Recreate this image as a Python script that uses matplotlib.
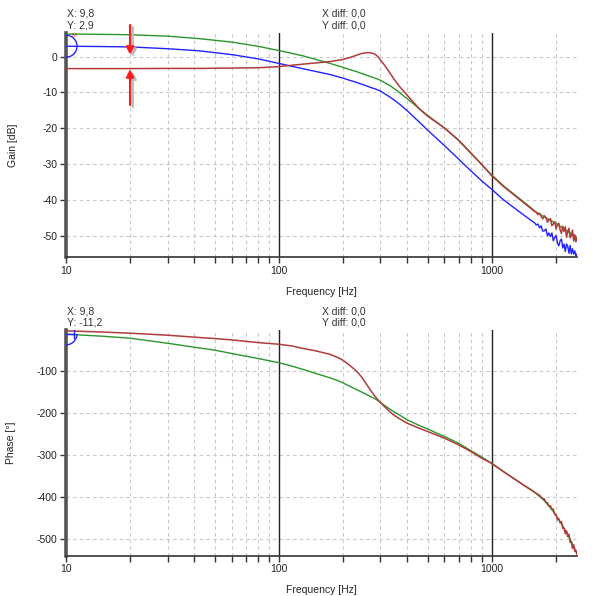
import matplotlib
matplotlib.use('Agg')
import matplotlib.pyplot as plt
import matplotlib.transforms as mtransforms
from matplotlib.patches import Arc

plt.rcParams['font.family'] = ['Liberation Sans', 'DejaVu Sans']
plt.rcParams['font.size'] = 7.5
plt.rcParams['axes.unicode_minus'] = False

# frequency points (Hz)
freq = [10, 15, 20, 30, 42.5, 61, 81, 100, 130, 174, 200, 215, 232, 245, 259, 270, 283, 292, 300,
        315, 333, 350, 370, 400, 430, 460, 500, 600, 700, 800, 900, 1000, 1140, 1365, 1600]

gain_green = [6.3, 6.2, 6.1, 5.7, 5.0, 4.0, 2.8, 1.7, 0.2, -1.9, -3.0, -3.6, -4.2, -4.7, -5.2, -5.6, -6.0, -6.3, -6.6,
              -7.3, -8.1, -9.0, -10.1, -11.7, -13.2, -14.7, -16.4, -19.9, -23.4, -27.0, -30.2, -33.0, -36.1, -39.8, -43.1]
gain_red = [-3.35, -3.35, -3.35, -3.3, -3.3, -3.2, -3.1, -2.8, -2.1, -1.4, -0.8, -0.3, 0.4, 0.85, 1.1, 1.05, 0.7, 0.0, -0.9,
            -2.5, -4.6, -6.5, -8.4, -10.7, -12.8, -14.7, -16.6, -19.9, -23.3, -26.9, -30.1, -33.2, -36.3, -40.0, -43.3]
gain_blue = [2.9, 2.8, 2.7, 2.2, 1.6, 0.5, -0.7, -1.9, -3.4, -5.0, -6.0, -6.6, -7.2, -7.7, -8.2, -8.6, -9.0, -9.3, -9.6,
             -10.4, -11.3, -12.2, -13.3, -15.0, -16.8, -18.4, -20.5, -24.8, -28.6, -31.9, -34.7, -37.0, -40.0, -43.5, -46.5]

# noisy high frequency end
freq_hf = [1620, 1650, 1680, 1710, 1740, 1770, 1800, 1830, 1860, 1890, 1920, 1950, 1980, 2010, 2040,
           2070, 2100, 2130, 2160, 2190, 2220, 2250, 2280, 2310, 2340, 2370, 2400, 2430, 2460, 2490, 2520]
gain_red_hf = [-43.4, -44.1, -43.7, -44.6, -45.3, -44.4, -44.9, -46.2, -45.6, -45.2, -47.2, -46.7, -46.1,
               -48.1, -46.9, -46.5, -48.4, -49.3, -47.3, -48.8, -47.5, -50.4, -48.8, -47.9, -50.5, -50.0,
               -48.4, -51.5, -49.7, -51.7, -50.5]
gain_blue_hf = [-47.0, -46.7, -47.8, -47.2, -48.7, -48.6, -48.1, -50.0, -49.2, -50.2, -49.2, -51.4, -50.5,
                -49.9, -52.0, -52.8, -51.4, -50.9, -53.4, -52.3, -54.4, -52.3, -52.9, -54.9, -52.7, -55.1,
                -53.6, -55.1, -54.2, -55.7, -55.1]
freq_green_hf = [1620, 2000, 2520]
gain_green_hf = [-43.4, -46.5, -50.5]

freq_ph = [10, 15, 20, 30, 40, 50, 60, 80, 100, 115, 130, 150, 174, 190, 200, 215, 232, 245, 259, 270,
           283, 295, 310, 325, 345, 370, 400, 450, 500, 600, 700, 800, 900, 1000, 1170, 1416, 1584]
phase_red = [-4, -7, -9.6, -14.4, -19, -22.4, -25.6, -32, -36, -40, -46, -52, -60, -68, -74, -86, -100, -114,
             -132, -146, -160, -171, -182, -192, -204, -214, -224, -235, -244, -260, -276, -292, -308, -320,
             -344, -372, -388]
phase_green = [-12, -17, -21.6, -33.6, -43, -50, -58, -70, -80, -88, -96, -106, -116, -123, -128, -136, -144,
               -150, -156, -161, -166, -172, -180, -187, -196, -205, -216, -228, -238, -256, -272, -290, -305,
               -320, -344, -372, -388]
phase_red_hf = [-394, -396, -401, -404, -405, -413, -414, -422, -421, -429, -429, -442, -443, -455, -452,
                -462, -459, -475, -475, -488, -481, -495, -489, -509, -507, -523, -514, -530, -528, -538]
freq_green_ph_hf = [1778, 2000, 2262, 2520]
phase_green_hf = [-410, -442, -486, -534]

c_green = '#2a962a'
c_red = '#b23a3a'
c_blue = '#2323ff'

fig = plt.figure(figsize=(6.05, 5.96), dpi=100)
ax1 = fig.add_axes([66 / 605, 1 - 257.3 / 596, (577 - 66) / 605, (257.3 - 33.3) / 596])
ax2 = fig.add_axes([66 / 605, 1 - 556 / 596, (577 - 66) / 605, (556 - 330) / 596])

minor_f = [20, 30, 40, 50, 60, 70, 80, 90, 200, 300, 400, 500, 600, 700, 800, 900, 2000]

for ax in (ax1, ax2):
    ax.set_xscale('log')
    ax.set_xlim(10, 2520)
    ax.set_xticks([10, 100, 1000])
    ax.set_xticklabels(['10', '100', '1000'])
    ax.set_xticks(minor_f, minor=True)
    ax.xaxis.set_minor_formatter(plt.NullFormatter())
    for s in ('top', 'right'):
        ax.spines[s].set_visible(False)
    ax.spines['left'].set_linewidth(2.6)
    ax.spines['left'].set_color('#555555')
    ax.spines['bottom'].set_linewidth(1.2)
    ax.spines['bottom'].set_color('#333333')
    ax.tick_params(axis='both', which='both', direction='out', length=4, width=1,
                   color='#333333', labelcolor='#222222', pad=2)
    for f in minor_f:
        ax.axvline(f, color='#c8c8c8', lw=0.8, ls=(0, (3, 3)), zorder=0)
    for f in (100, 1000):
        ax.axvline(f, color='#222222', lw=1.0, zorder=1)
    ax.set_xlabel('Frequency [Hz]', labelpad=8, color='#222222')

# gain plot
ax1.set_ylim(-56, 6.5)
ax1.set_yticks([0, -10, -20, -30, -40, -50])
for v in ax1.get_yticks():
    ax1.axhline(v, color='#c8c8c8', lw=0.8, ls=(0, (3, 3)), zorder=0)
ax1.plot(freq + freq_green_hf, gain_green + gain_green_hf, color=c_green, lw=1.0, zorder=3)
ax1.plot(freq + freq_hf, gain_blue + gain_blue_hf, color=c_blue, lw=1.0, zorder=4)
ax1.plot(freq + freq_hf, gain_red + gain_red_hf, color=c_red, lw=1.1, zorder=5)
ax1.set_ylabel('Gain [dB]', labelpad=18, color='#222222')

# phase plot
ax2.set_ylim(-541, -2)
ax2.set_yticks([-100, -200, -300, -400, -500])
for v in ax2.get_yticks():
    ax2.axhline(v, color='#c8c8c8', lw=0.8, ls=(0, (3, 3)), zorder=0)
ax2.plot(freq_ph + freq_green_ph_hf, phase_green + phase_green_hf, color=c_green, lw=1.0, zorder=3)
ax2.plot(freq_ph + freq_hf[1:], phase_red + phase_red_hf, color=c_red, lw=1.1, zorder=5)
ax2.set_ylabel('Phase [°]', labelpad=15, color='#222222')

# cursor readouts
fig.text(67 / 605, 1 - 13 / 596, 'X: 9,8', color='#333333', va='center')
fig.text(67 / 605, 1 - 25 / 596, 'Y: 2,9', color='#333333', va='center')
fig.text(322 / 605, 1 - 13 / 596, 'X diff: 0,0', color='#333333', va='center')
fig.text(322 / 605, 1 - 25 / 596, 'Y diff: 0,0', color='#333333', va='center')
fig.text(67 / 605, 1 - 311 / 596, 'X: 9,8', color='#333333', va='center')
fig.text(67 / 605, 1 - 322 / 596, 'Y: -11,2', color='#333333', va='center')
fig.text(322 / 605, 1 - 311 / 596, 'X diff: 0,0', color='#333333', va='center')
fig.text(322 / 605, 1 - 322 / 596, 'Y diff: 0,0', color='#333333', va='center')

# cursor marks
t1 = fig.dpi_scale_trans + mtransforms.ScaledTranslation(10, 2.9, ax1.transData)
ax1.add_patch(Arc((0, 0), 0.22, 0.22, theta1=-90, theta2=90, transform=t1,
                  color=c_blue, lw=1.0, clip_on=False, zorder=6))
ax1.text(10.6, 5.6, 'M', color='#e03030', fontsize=4, zorder=6)
t2 = fig.dpi_scale_trans + mtransforms.ScaledTranslation(10, -11.2, ax2.transData)
ax2.add_patch(Arc((0, 0), 0.22, 0.22, theta1=-90, theta2=0, transform=t2,
                  color=c_blue, lw=1.0, clip_on=False, zorder=6))
ax2.plot([10, 10.95], [-11.2, -11.2], color=c_blue, lw=1.0, zorder=6)
ax2.plot([10.95, 10.95], [-2, -20], color=c_blue, lw=1.0, zorder=6)

# red arrows marking the offset
for tail, head in ((8.8, 0.5), (-13.5, -3.5)):
    ax1.annotate('', xy=(20.6, head - 0.6), xytext=(20.6, tail - 0.6),
                 arrowprops=dict(arrowstyle='-|>', color='#bbbbbb', lw=1.6,
                                 mutation_scale=11, shrinkA=0, shrinkB=0),
                 annotation_clip=False, zorder=6)
    ax1.annotate('', xy=(20, head), xytext=(20, tail),
                 arrowprops=dict(arrowstyle='-|>', color='#ff1a1a', lw=1.6,
                                 mutation_scale=11, shrinkA=0, shrinkB=0),
                 annotation_clip=False, zorder=7)

plt.savefig('out.png', dpi=100)
plt.close()
